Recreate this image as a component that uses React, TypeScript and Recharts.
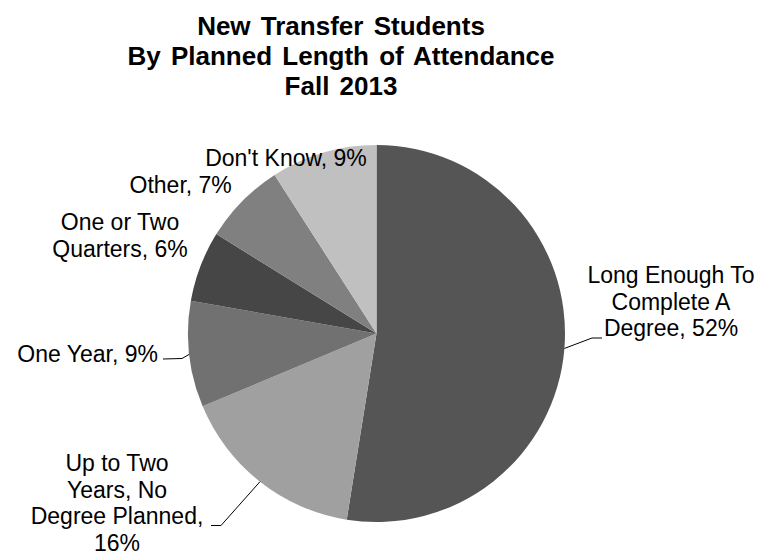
import React from "react";
import { Cell, Customized, Pie, PieChart } from "recharts";

const titleLines = ["New Transfer Students", "By Planned Length of Attendance", "Fall 2013"];

const categories = [
  "Long Enough To Complete A Degree",
  "Up to Two Years, No Degree Planned",
  "One Year",
  "One or Two Quarters",
  "Other",
  "Don't Know",
];
const percents = [52, 16, 9, 6, 7, 9];
const sliceColors = ["#555555", "#a0a0a0", "#717171", "#464646", "#808080", "#c0c0c0"];

// how each label is wrapped, as Excel did it
const labelText = [
  ["Long Enough To", "Complete A", `Degree, ${percents[0]}%`],
  ["Up to Two", "Years, No", "Degree Planned,", `${percents[1]}%`],
  [`One Year, ${percents[2]}%`],
  ["One or Two", `Quarters, ${percents[3]}%`],
  [`Other, ${percents[4]}%`],
  [`Don't Know, ${percents[5]}%`],
];

// label placement, offsets from pie centre
type LabelPos = {
  x: number;
  y: number;
  anchor: "start" | "middle" | "end";
  elbow?: [number, number];
  end?: [number, number];
};
const labelPos: LabelPos[] = [
  { x: 294.5, y: -50.2, anchor: "middle", elbow: [215.5, 4.5], end: [225.5, 4.5] },
  { x: -259.5, y: 137.5, anchor: "middle", elbow: [-155.5, 192], end: [-165.5, 192] },
  { x: -218.5, y: 28, anchor: "end", elbow: [-194.5, 25], end: [-213.5, 25.5] },
  { x: -256.5, y: -103.5, anchor: "middle" },
  { x: -195.8, y: -140.2, anchor: "middle" },
  { x: -90.5, y: -167.5, anchor: "middle" },
];

const data = categories.map((name, i) => ({ name, value: percents[i] }));

const FONT = "'Liberation Sans', Arial, sans-serif";
const RAD = Math.PI / 180;

function renderLabel(props: any) {
  const { cx, cy, midAngle, outerRadius, index } = props;
  const pos = labelPos[index];
  const lines = labelText[index];
  let leader = null;
  if (pos.elbow && pos.end) {
    const sx = cx + outerRadius * Math.cos(-midAngle * RAD);
    const sy = cy + outerRadius * Math.sin(-midAngle * RAD);
    const d = `M${sx},${sy}L${cx + pos.elbow[0]},${cy + pos.elbow[1]}L${cx + pos.end[0]},${cy + pos.end[1]}`;
    leader = <path d={d} stroke="#000" strokeWidth={1} fill="none" />;
  }
  return (
    <g key={`lbl-${index}`}>
      {leader}
      <text
        x={cx + pos.x}
        y={cy + pos.y}
        textAnchor={pos.anchor}
        fontFamily={FONT}
        fontSize={23}
        fill="#000"
      >
        {lines.map((ln, j) => (
          <tspan key={j} x={cx + pos.x} dy={j === 0 ? 0 : 26.5}>
            {ln}
          </tspan>
        ))}
      </text>
    </g>
  );
}

function Title() {
  return (
    <text
      x={341}
      y={35}
      textAnchor="middle"
      fontFamily={FONT}
      fontSize={26}
      fontWeight="bold"
      wordSpacing={3}
      fill="#000"
    >
      {titleLines.map((ln, i) => (
        <tspan key={i} x={341} dy={i === 0 ? 0 : 30}>
          {ln}
        </tspan>
      ))}
    </text>
  );
}

export default function App() {
  return (
    <div style={{ position: "absolute", left: 0, top: 0, width: 764, height: 554, background: "#fff" }}>
      <PieChart width={764} height={554} margin={{ top: 0, right: 0, bottom: 0, left: 0 }}>
        <Customized component={Title} />
        <Pie
          data={data}
          dataKey="value"
          nameKey="name"
          cx={376.5}
          cy={333.5}
          outerRadius={188.5}
          startAngle={90}
          endAngle={-270}
          stroke="none"
          label={renderLabel}
          labelLine={false}
          isAnimationActive={false}
        >
          {data.map((d, i) => (
            <Cell key={d.name} fill={sliceColors[i]} />
          ))}
        </Pie>
      </PieChart>
    </div>
  );
}
